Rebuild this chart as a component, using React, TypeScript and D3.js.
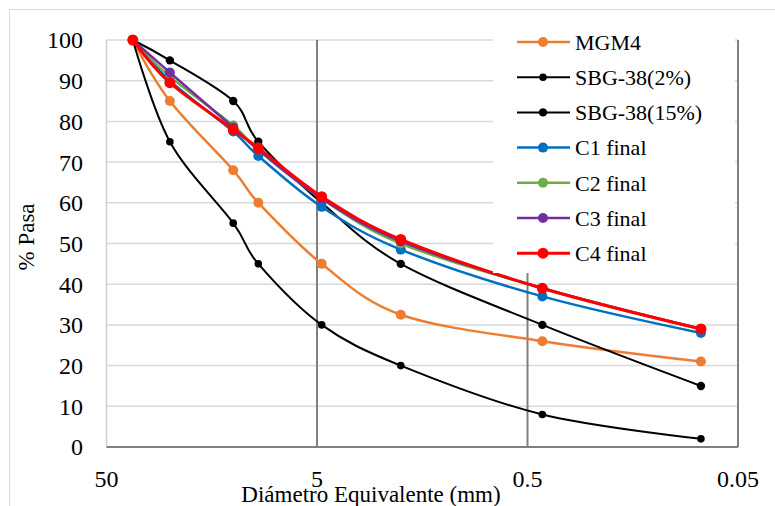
import React from "react";
import * as d3 from "d3";

const sieves = [37.5, 25, 12.5, 9.5, 4.75, 2.0, 0.425, 0.075];
const mgm4 = [100, 85, 68, 60, 45, 32.5, 26, 21];
const sbg2 = [100, 75, 55, 45, 30, 20, 8, 2];
const sbg15 = [100, 95, 85, 75, 60, 45, 30, 15];
const c1 = [100, 90, 77.5, 71.5, 59, 48.5, 37, 28];
const c2 = [100, 91, 79, 73, 61, 50, 39, 29];
const c3 = [100, 92, 78.5, 73, 61, 50.5, 39, 29];
const c4 = [100, 89.5, 78, 73.5, 61.5, 51, 39, 29];
const yTicks = [0, 10, 20, 30, 40, 50, 60, 70, 80, 90, 100];
const xTicks = [50, 5, 0.5, 0.05];
const xTickLabels = ["50", "5", "0.5", "0.05"];

const series = [
  { name: "MGM4", values: mgm4, color: "#ED7D31", width: 2.5, r: 5 },
  { name: "SBG-38(2%)", values: sbg2, color: "#000000", width: 2, r: 3.8 },
  { name: "SBG-38(15%)", values: sbg15, color: "#000000", width: 2, r: 4.2 },
  { name: "C1 final", values: c1, color: "#0070C0", width: 2.5, r: 5 },
  { name: "C2 final", values: c2, color: "#70AD47", width: 2.5, r: 5 },
  { name: "C3 final", values: c3, color: "#7030A0", width: 2.5, r: 5 },
  { name: "C4 final", values: c4, color: "#FF0000", width: 3, r: 5.5 },
];

const FONT = '"Liberation Serif", "Times New Roman", Tinos, "DejaVu Serif", serif';

export default function App() {
  const W = 775, H = 506;
  const left = 106.5, right = 738, top = 40, bottom = 447;
  const x = d3.scaleLog().domain([50, 0.05]).range([left, right]);
  const y = d3.scaleLinear().domain([0, 100]).range([bottom, top]);
  const line = d3
    .line<number>()
    .x((_, i) => x(sieves[i]))
    .y((d) => y(d))
    .curve(d3.curveCardinal.tension(0));
  const ts = { fontFamily: FONT };
  const legX = 493, legY = 22, legW = 242, legH = 251;
  return (
    <svg width={W} height={H} style={{ position: "absolute", left: 0, top: 0, fontFamily: FONT }}>
      <rect x={0} y={0} width={W} height={H} fill="#fff" />
      <line x1={9.5} y1={9.5} x2={W} y2={9.5} stroke="#d9d9d9" strokeWidth={1} />
      <line x1={9.5} y1={9.5} x2={9.5} y2={H} stroke="#d9d9d9" strokeWidth={1} />
      {yTicks.map((t) => (
        <line key={t} x1={left} x2={right} y1={y(t)} y2={y(t)} stroke="#d9d9d9" strokeWidth={1.5} />
      ))}
      <line x1={left} x2={left} y1={top} y2={bottom} stroke="#d0d0d0" strokeWidth={1.5} />
      {xTicks.slice(1).map((t) => (
        <line key={t} x1={x(t)} x2={x(t)} y1={top} y2={bottom} stroke="#808080" strokeWidth={2} />
      ))}
      <line x1={left} x2={right} y1={bottom} y2={bottom} stroke="#808080" strokeWidth={2} />
      {yTicks.map((t) => (
        <text key={t} x={83} y={y(t)} dy="0.35em" textAnchor="end" fontSize={24} style={ts}>
          {t}
        </text>
      ))}
      {xTicks.map((t, i) => (
        <text key={t} x={x(t)} y={487} textAnchor="middle" fontSize={24} style={ts}>
          {xTickLabels[i]}
        </text>
      ))}
      <text x={371} y={502} textAnchor="middle" fontSize={23} style={ts}>
        Diámetro Equivalente (mm)
      </text>
      <text transform={`translate(34,237) rotate(-90)`} textAnchor="middle" fontSize={23} style={ts}>
        % Pasa
      </text>
      {series.map((s) => (
        <g key={s.name}>
          <path d={line(s.values) || ""} fill="none" stroke={s.color} strokeWidth={s.width} />
          {s.values.map((v, i) => (
            <circle key={i} cx={x(sieves[i])} cy={y(v)} r={s.r} fill={s.color} />
          ))}
        </g>
      ))}
      <rect x={legX} y={legY} width={legW} height={legH} fill="#fff" />
      {series.map((s, i) => {
        const ly = 42 + i * 35.2;
        return (
          <g key={s.name}>
            <line x1={517} x2={570} y1={ly} y2={ly} stroke={s.color} strokeWidth={s.width} />
            <circle cx={543} cy={ly} r={s.r} fill={s.color} />
            <text x={575} y={ly} dy="0.35em" fontSize={22} style={ts}>
              {s.name}
            </text>
          </g>
        );
      })}
    </svg>
  );
}
